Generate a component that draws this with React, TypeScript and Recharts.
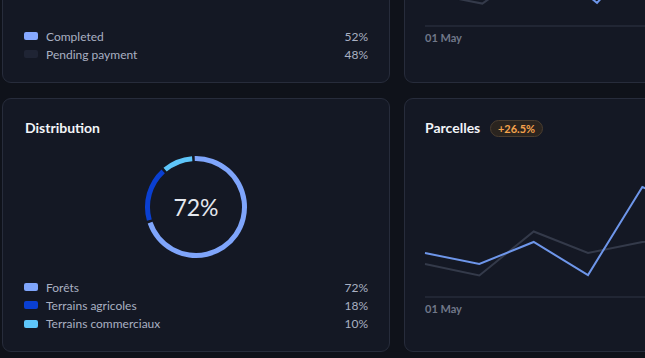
import React from 'react';
import { PieChart, Pie, Cell, LineChart, Line, XAxis, YAxis } from 'recharts';

const statusLabels = ['Completed', 'Pending payment'];
const statusValues = [52, 48];
const statusColors = ['#86a8ff', '#1f2434'];

const distLabels = ['Forêts', 'Terrains agricoles', 'Terrains commerciaux'];
const distValues = [72, 18, 10];
const distColors = ['#7fa5fb', '#0a3fd1', '#5ec6fa'];
const distCenter = '72%';

const dates = ['01 May', '02 May', '03 May', '04 May', '05 May', '06 May', '07 May'];
const topCurrent = [40, 55, 50, 16.5, 62, 58, 70];
const topPrevious = [24, 16, 45, 38, 52, 48, 60];

const parcellesCurrent = [31.4, 23.6, 39.3, 15.7, 78.6, 62, 70];
const parcellesPrevious = [23.6, 15.4, 46.8, 31.4, 39.3, 44, 50];
const parcellesBadge = '+26.5%';

const topData = dates.map((d, i) => ({ date: d, current: topCurrent[i], previous: topPrevious[i] }));
const parcData = dates.map((d, i) => ({ date: d, current: parcellesCurrent[i], previous: parcellesPrevious[i] }));
const distData = distLabels.map((l, i) => ({ name: l, value: distValues[i] }));

const FONT = 'Lato, "Noto Sans", sans-serif';
const BLUE = '#6e96ea';
const GRAY = '#343a4a';
const AXIS = '#2e3445';

const card: React.CSSProperties = {
  position: 'absolute',
  boxSizing: 'border-box',
  background: '#141824',
  border: '1px solid #272c3b',
  borderRadius: 9,
};

const FirstTick = (props: any) => {
  const { x, y, index, payload } = props;
  if (index !== 0) return null;
  return (
    <text x={x} y={y} dy="0.71em" textAnchor="start" fill="#707789" fontSize={11} fontWeight={700} fontFamily={FONT}>
      {payload.value}
    </text>
  );
};

function LegendRows({ labels, values, colors, top }: { labels: string[]; values: number[]; colors: string[]; top: number }) {
  return (
    <>
      {labels.map((l, i) => (
        <div
          key={l}
          style={{
            position: 'absolute',
            left: 24,
            width: 344,
            top: top + i * 18.3 - 8,
            height: 16,
            display: 'flex',
            alignItems: 'center',
            fontSize: 12,
            color: '#a9b0c2',
            fontFamily: FONT,
          }}
        >
          <span style={{ width: 14, height: 8, borderRadius: 2, background: colors[i], marginRight: 8 }} />
          <span style={{ flex: 1 }}>{l}</span>
          <span>{values[i]}%</span>
        </div>
      ))}
    </>
  );
}

export default function App() {
  return (
    <div
      style={{
        position: 'fixed',
        left: 0,
        top: 0,
        width: 645,
        height: 358,
        overflow: 'hidden',
        background: '#0f121a',
        fontFamily: FONT,
      }}
    >
      <div style={{ ...card, left: 2, top: -150, width: 388, height: 233 }} />
      <div style={{ ...card, left: 404, top: -150, width: 388, height: 233 }} />
      <div style={{ ...card, left: 2, top: 98, width: 388, height: 254 }} />
      <div style={{ ...card, left: 404, top: 98, width: 388, height: 254 }} />

      <LegendRows labels={statusLabels} values={statusValues} colors={statusColors} top={36} />

      <div style={{ position: 'absolute', left: 25, top: 119, fontSize: 14, fontWeight: 700, color: '#f2f4f8' }}>Distribution</div>
      <div style={{ position: 'absolute', left: 0, top: 0 }}>
        <PieChart width={392} height={358} margin={{ top: 0, right: 0, bottom: 0, left: 0 }}>
          <Pie
            data={distData}
            dataKey="value"
            cx={196}
            cy={207}
            innerRadius={46}
            outerRadius={51}
            startAngle={91.5}
            endAngle={-268.5}
            paddingAngle={3}
            stroke="none"
            isAnimationActive={false}
          >
            {distData.map((d, i) => (
              <Cell key={d.name} fill={distColors[i]} />
            ))}
          </Pie>
        </PieChart>
      </div>
      <div
        style={{
          position: 'absolute',
          left: 146,
          width: 100,
          top: 193,
          height: 28,
          display: 'flex',
          alignItems: 'center',
          justifyContent: 'center',
          fontSize: 23,
          color: '#e4e7ee',
        }}
      >
        {distCenter}
      </div>
      <LegendRows labels={distLabels} values={distValues} colors={distColors} top={287} />

      <div style={{ position: 'absolute', left: 425, top: 119, fontSize: 14, fontWeight: 700, color: '#f2f4f8' }}>Parcelles</div>
      <div
        style={{
          position: 'absolute',
          left: 490,
          top: 120,
          width: 53,
          height: 17,
          boxSizing: 'border-box',
          borderRadius: 9,
          background: '#2a241f',
          border: '1px solid #4a3d2f',
          color: '#f5a24c',
          fontSize: 11,
          fontWeight: 700,
          display: 'flex',
          alignItems: 'center',
          justifyContent: 'center',
        }}
      >
        {parcellesBadge}
      </div>

      <div style={{ position: 'absolute', left: 0, top: -150 }}>
        <LineChart width={800} height={300} data={topData} margin={{ top: 36, right: 31, left: 425, bottom: 0 }}>
          <XAxis dataKey="date" height={124} axisLine={{ stroke: AXIS }} tickLine={false} tick={<FirstTick />} interval={0} />
          <YAxis hide domain={[0, 100]} />
          <Line type="linear" dataKey="previous" stroke={GRAY} strokeWidth={2} dot={false} isAnimationActive={false} />
          <Line type="linear" dataKey="current" stroke={BLUE} strokeWidth={2} dot={false} isAnimationActive={false} />
        </LineChart>
      </div>

      <div style={{ position: 'absolute', left: 0, top: 0 }}>
        <LineChart width={800} height={358} data={parcData} margin={{ top: 157, right: 49, left: 425, bottom: 0 }}>
          <XAxis dataKey="date" height={61} axisLine={{ stroke: AXIS }} tickLine={false} tick={<FirstTick />} interval={0} />
          <YAxis hide domain={[0, 100]} />
          <Line type="linear" dataKey="previous" stroke={GRAY} strokeWidth={2} dot={false} isAnimationActive={false} />
          <Line type="linear" dataKey="current" stroke={BLUE} strokeWidth={2} dot={false} isAnimationActive={false} />
        </LineChart>
      </div>
    </div>
  );
}
